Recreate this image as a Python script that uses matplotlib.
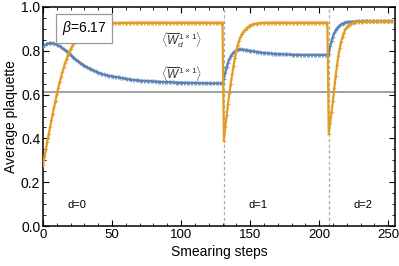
import numpy as np
import matplotlib.pyplot as plt

plt.rcParams['font.family'] = ['Liberation Sans', 'DejaVu Sans']
plt.rcParams['mathtext.fontset'] = 'custom'
plt.rcParams['mathtext.rm'] = 'Liberation Sans'
plt.rcParams['mathtext.it'] = 'Liberation Sans:italic'

# smearing step where each segment starts
seg_start = [0, 131, 207]
seg_names = ['d=0', 'd=1', 'd=2']
label_x = [24.5, 156, 231.5]

# <W_d^{1x1}> (orange), one value per step
wd_d0 = [
    0.280, 0.315, 0.350, 0.385, 0.418, 0.450, 0.482, 0.513, 0.543, 0.573,
    0.603, 0.630, 0.656, 0.680, 0.703, 0.724, 0.744, 0.762, 0.779, 0.794,
    0.808, 0.820, 0.831, 0.841, 0.850, 0.858, 0.865, 0.871, 0.877, 0.882,
    0.887, 0.892, 0.896, 0.900, 0.903, 0.906, 0.909, 0.911, 0.913, 0.915,
    0.917, 0.918, 0.919, 0.920, 0.921, 0.922, 0.923, 0.923, 0.924, 0.924,
    0.925, 0.925, 0.926, 0.926, 0.926, 0.926, 0.927, 0.927, 0.927, 0.927,
    0.927, 0.927, 0.927, 0.928, 0.928, 0.928, 0.928, 0.928, 0.928, 0.928,
    0.928, 0.928, 0.928, 0.928, 0.928, 0.928, 0.928, 0.928, 0.928, 0.928,
    0.928, 0.928, 0.928, 0.928, 0.928, 0.928, 0.928, 0.928, 0.928, 0.928,
    0.928, 0.928, 0.928, 0.928, 0.928, 0.928, 0.928, 0.928, 0.928, 0.928,
    0.928, 0.928, 0.928, 0.928, 0.928, 0.928, 0.928, 0.928, 0.928, 0.928,
    0.928, 0.928, 0.928, 0.928, 0.928, 0.928, 0.928, 0.928, 0.928, 0.928,
    0.928, 0.928, 0.928, 0.928, 0.928, 0.928, 0.928, 0.928, 0.928, 0.928,
    0.928,
]
wd_d1 = [
    0.390, 0.450, 0.505, 0.557, 0.605, 0.650, 0.692, 0.732, 0.768, 0.798,
    0.825, 0.845, 0.862, 0.875, 0.886, 0.894, 0.900, 0.906, 0.911, 0.915,
    0.918, 0.920, 0.922, 0.923, 0.924, 0.925, 0.926, 0.926, 0.927, 0.927,
    0.927, 0.928, 0.928, 0.928, 0.928, 0.928, 0.928, 0.928, 0.928, 0.928,
    0.928, 0.928, 0.928, 0.928, 0.928, 0.928, 0.928, 0.928, 0.928, 0.928,
    0.928, 0.928, 0.928, 0.928, 0.928, 0.928, 0.928, 0.928, 0.928, 0.928,
    0.928, 0.928, 0.928, 0.928, 0.928, 0.928, 0.928, 0.928, 0.928, 0.928,
    0.928, 0.928, 0.928, 0.928, 0.928, 0.928,
]
wd_d2 = [
    0.420, 0.470, 0.520, 0.570, 0.630, 0.685, 0.735, 0.778, 0.813, 0.842,
    0.865, 0.883, 0.897, 0.907, 0.914, 0.919, 0.923, 0.926, 0.928, 0.930,
    0.931, 0.932, 0.932, 0.933, 0.933, 0.933, 0.934, 0.934, 0.934, 0.934,
    0.934, 0.934, 0.934, 0.934, 0.934, 0.934, 0.934, 0.934, 0.934, 0.934,
    0.934, 0.934, 0.934, 0.934, 0.934, 0.934, 0.934,
]

# <W^{1x1}> (blue)
w_d0 = [
    0.818, 0.824, 0.829, 0.832, 0.834, 0.835, 0.835, 0.834, 0.833, 0.831,
    0.828, 0.825, 0.821, 0.817, 0.812, 0.807, 0.802, 0.797, 0.791, 0.786,
    0.780, 0.775, 0.769, 0.764, 0.759, 0.754, 0.749, 0.744, 0.740, 0.736,
    0.732, 0.728, 0.724, 0.721, 0.718, 0.715, 0.712, 0.709, 0.706, 0.703,
    0.700, 0.698, 0.696, 0.694, 0.692, 0.690, 0.689, 0.687, 0.686, 0.685,
    0.684, 0.682, 0.681, 0.680, 0.679, 0.678, 0.677, 0.676, 0.675, 0.674,
    0.672, 0.671, 0.670, 0.669, 0.668, 0.667, 0.667, 0.666, 0.665, 0.665,
    0.664, 0.664, 0.663, 0.663, 0.662, 0.662, 0.661, 0.661, 0.661, 0.660,
    0.660, 0.660, 0.659, 0.659, 0.659, 0.658, 0.658, 0.658, 0.657, 0.657,
    0.657, 0.657, 0.656, 0.656, 0.656, 0.656, 0.655, 0.655, 0.655, 0.655,
    0.655, 0.654, 0.654, 0.654, 0.654, 0.654, 0.653, 0.653, 0.653, 0.653,
    0.653, 0.653, 0.653, 0.652, 0.652, 0.652, 0.652, 0.652, 0.652, 0.652,
    0.652, 0.651, 0.651, 0.651, 0.651, 0.651, 0.651, 0.651, 0.651, 0.651,
    0.651,
]
w_d1 = [
    0.670, 0.700, 0.725, 0.745, 0.762, 0.775, 0.785, 0.793, 0.798, 0.802,
    0.805, 0.806, 0.806, 0.806, 0.805, 0.804, 0.803, 0.802, 0.801, 0.800,
    0.799, 0.798, 0.797, 0.796, 0.795, 0.794, 0.793, 0.792, 0.791, 0.791,
    0.790, 0.789, 0.789, 0.788, 0.788, 0.787, 0.787, 0.786, 0.786, 0.785,
    0.785, 0.785, 0.784, 0.784, 0.784, 0.783, 0.783, 0.783, 0.783, 0.782,
    0.782, 0.782, 0.782, 0.782, 0.782, 0.781, 0.781, 0.781, 0.781, 0.781,
    0.781, 0.781, 0.781, 0.781, 0.781, 0.781, 0.781, 0.781, 0.781, 0.781,
    0.781, 0.781, 0.781, 0.781, 0.781, 0.781,
]
w_d2 = [
    0.785, 0.820, 0.845, 0.865, 0.880, 0.893, 0.903, 0.910, 0.916, 0.920,
    0.924, 0.927, 0.929, 0.930, 0.931, 0.932, 0.932, 0.933, 0.933, 0.933,
    0.934, 0.934, 0.934, 0.934, 0.934, 0.934, 0.934, 0.934, 0.934, 0.934,
    0.934, 0.934, 0.934, 0.934, 0.934, 0.934, 0.934, 0.934, 0.934, 0.934,
    0.934, 0.934, 0.934, 0.934, 0.934, 0.934, 0.934,
]

ref_level = 0.61
beta_text = r'$\beta$=6.17'

wd = np.array(wd_d0 + wd_d1 + wd_d2)
w = np.array(w_d0 + w_d1 + w_d2)
steps = np.arange(len(wd))

blue = '#5E81B5'
orange = '#E19C24'

fig = plt.figure(figsize=(3.99, 2.66), dpi=100)
ax = fig.add_axes([0.108, 0.150, 0.882, 0.824])

ax.axhline(ref_level, color='#999999', lw=1.3, zorder=1)
for s in seg_start[1:]:
    ax.axvline(s, color='#aaaaaa', lw=0.9, ls=(0, (2.5, 2)), zorder=1)

ax.plot(steps, w, color=blue, lw=1.6, marker='+', ms=3, mew=0.55, zorder=3)
ax.plot(steps, wd, color=orange, lw=1.6, marker='+', ms=3, mew=0.55, zorder=4)

ax.text(100.7, 0.849, r'$\langle \overline{W}_d^{\,1\times 1}\rangle$',
        fontsize=8.5, ha='center', va='center', color='#333333')
ax.text(100.7, 0.697, r'$\langle \overline{W}^{\,1\times 1}\rangle$',
        fontsize=8.5, ha='center', va='center', color='#333333')
ax.text(29.9, 0.902, beta_text, fontsize=10, ha='center', va='center',
        bbox=dict(boxstyle='square,pad=0.4', fc='white', ec='#999999', lw=0.9),
        zorder=5)

for name, lx in zip(seg_names, label_x):
    ax.text(lx, 0.096, name, fontsize=8, ha='center', va='center')

ax.set_xlim(0, 255)
ax.set_ylim(0, 1.0)
ax.set_xticks([0, 50, 100, 150, 200, 250])
ax.set_xticks(np.arange(0, 255, 10), minor=True)
ax.set_yticks([0.0, 0.2, 0.4, 0.6, 0.8, 1.0])
ax.set_yticks(np.arange(0, 1.001, 0.05), minor=True)
ax.tick_params(which='both', direction='in', top=True, right=True,
               labelsize=10, pad=2)
ax.tick_params(axis='x', labelsize=9.5)
ax.tick_params(which='major', length=4, width=0.8)
ax.tick_params(which='minor', length=2, width=0.6)
for sp in ax.spines.values():
    sp.set_linewidth(1.1)

ax.set_xlabel('Smearing steps', fontsize=10, labelpad=3)
ax.set_ylabel('Average plaquette', fontsize=10, labelpad=2)

fig.savefig('out.png', dpi=100)
